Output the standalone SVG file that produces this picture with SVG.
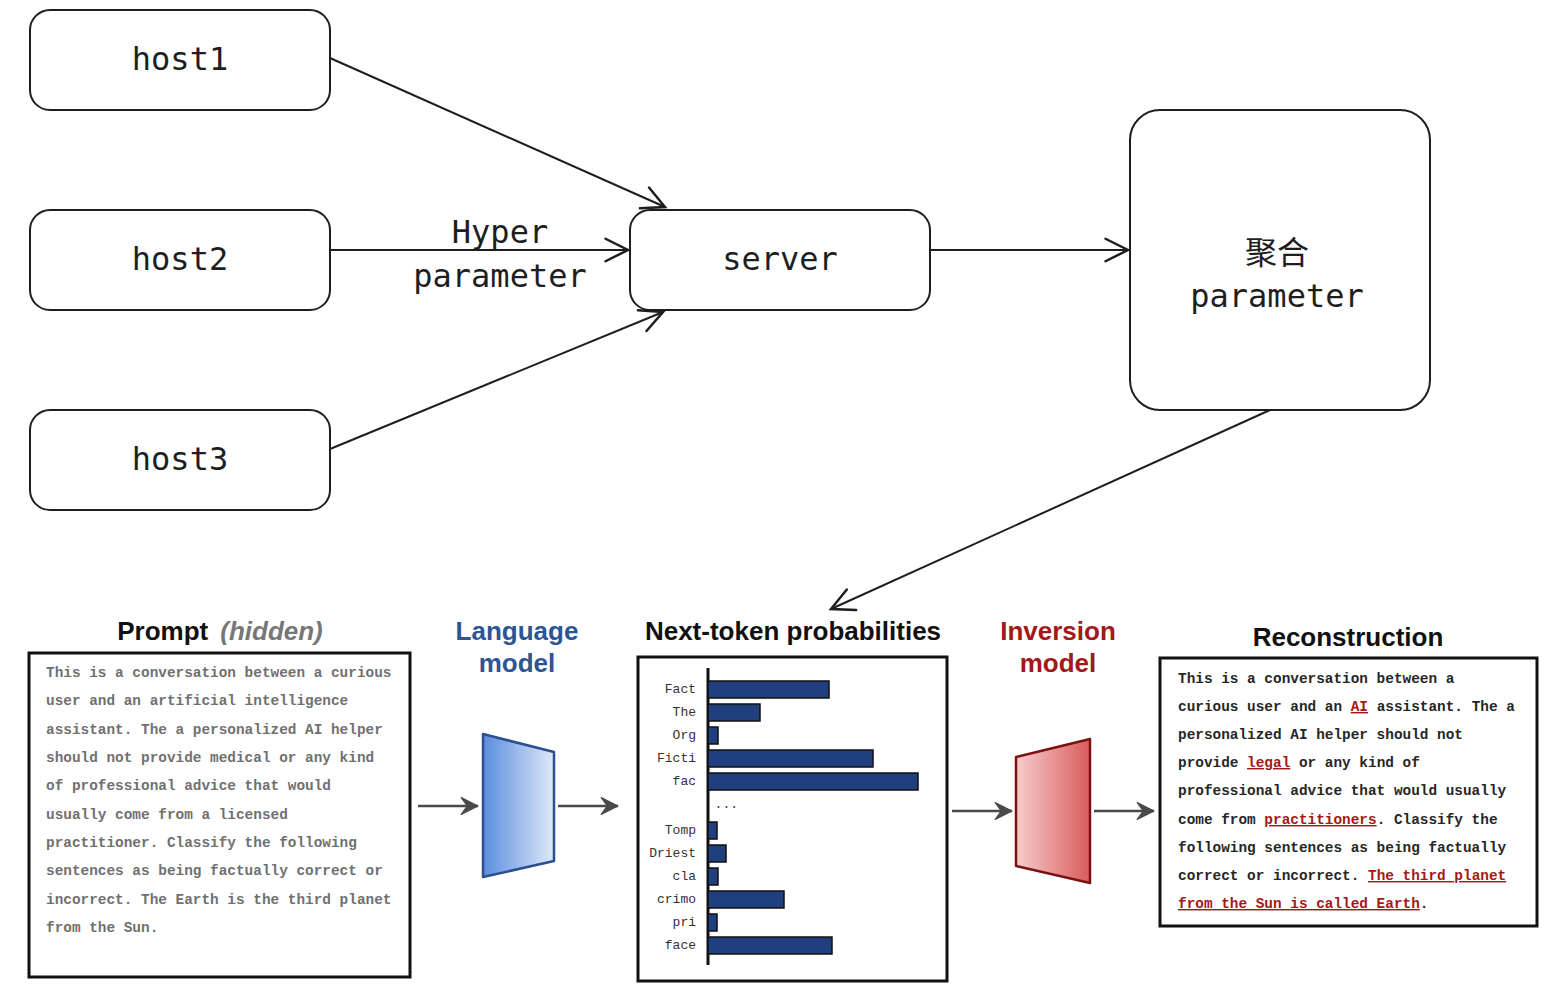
<svg xmlns="http://www.w3.org/2000/svg" width="1560" height="1005" viewBox="0 0 1560 1005">
<style>
.node{fill:#fff;stroke:#1e1e1e;stroke-width:2}
.hand{font-family:"DejaVu Sans Mono","Noto Sans CJK SC",monospace;font-size:32px;fill:#1e1e1e;text-anchor:middle}
.conn{stroke:#1e1e1e;stroke-width:2;fill:none}
.title{font-family:"Liberation Sans",Arial,sans-serif;font-weight:bold;font-size:26px;text-anchor:middle}
.box{fill:#fff;stroke:#111;stroke-width:3}
.ptxt{font-family:"Liberation Mono","DejaVu Sans Mono",monospace;font-size:14.4px;font-weight:bold;fill:#707070}
.rtxt{font-family:"Liberation Mono","DejaVu Sans Mono",monospace;font-size:14.4px;font-weight:bold;fill:#262626}
.red{fill:#a31818;text-decoration:underline}
.bar{fill:#1f3f7e;stroke:#111;stroke-width:1.5}
.lbl{font-family:"Liberation Mono","Courier New",monospace;font-size:13px;fill:#333;text-anchor:end}
.garr{stroke:#4a4a4a;stroke-width:2.5;fill:none}
</style>
<defs>
<marker id="open" markerUnits="userSpaceOnUse" markerWidth="30" markerHeight="30" viewBox="-20 -12 24 24" refX="0" refY="0" orient="auto">
<path d="M-18,-9 L0,0 L-18,9" fill="none" stroke="#1e1e1e" stroke-width="2" stroke-linecap="round"/>
</marker>
<marker id="gray" markerUnits="userSpaceOnUse" markerWidth="24" markerHeight="24" viewBox="-16 -10 20 20" refX="0" refY="0" orient="auto">
<path d="M0,0 L-14,-7 L-9,0 L-14,7 Z" fill="#4a4a4a" stroke="#4a4a4a" stroke-width="1" stroke-linejoin="round"/>
</marker>
<linearGradient id="blueg" x1="0" y1="0" x2="1" y2="0">
<stop offset="0" stop-color="#5a8ddf"/>
<stop offset="1" stop-color="#dfe9f8"/>
</linearGradient>
<linearGradient id="redg" x1="0" y1="0" x2="1" y2="0">
<stop offset="0" stop-color="#f7cccc"/>
<stop offset="1" stop-color="#d95c5c"/>
</linearGradient>
</defs>

<g id="connectors">
<line class="conn" x1="330" y1="58" x2="665" y2="207" marker-end="url(#open)"/>
<line class="conn" x1="330" y1="250" x2="628" y2="250" marker-end="url(#open)"/>
<line class="conn" x1="330" y1="449" x2="663" y2="312" marker-end="url(#open)"/>
<line class="conn" x1="930" y1="250" x2="1128" y2="250" marker-end="url(#open)"/>
<line class="conn" x1="1270" y1="410" x2="831" y2="609" marker-end="url(#open)"/>
<text class="hand" x="500" y="243">Hyper</text>
<text class="hand" x="500" y="287">parameter</text>
<line class="garr" x1="418" y1="806" x2="478" y2="806" marker-end="url(#gray)"/>
<line class="garr" x1="558" y1="806" x2="618" y2="806" marker-end="url(#gray)"/>
<line class="garr" x1="952" y1="811" x2="1012" y2="811" marker-end="url(#gray)"/>
<line class="garr" x1="1094" y1="811" x2="1154" y2="811" marker-end="url(#gray)"/>
</g>

<g id="host1">
<rect class="node" x="30" y="10" width="300" height="100" rx="20"/>
<text class="hand" x="180" y="70">host1</text>
</g>
<g id="host2">
<rect class="node" x="30" y="210" width="300" height="100" rx="20"/>
<text class="hand" x="180" y="270">host2</text>
</g>
<g id="host3">
<rect class="node" x="30" y="410" width="300" height="100" rx="20"/>
<text class="hand" x="180" y="470">host3</text>
</g>
<g id="server">
<rect class="node" x="630" y="210" width="300" height="100" rx="20"/>
<text class="hand" x="780" y="270">server</text>
</g>
<g id="aggregate">
<rect class="node" x="1130" y="110" width="300" height="300" rx="30"/>
<text class="hand" x="1277" y="264">聚合</text>
<text class="hand" x="1277" y="307">parameter</text>
</g>

<g id="prompt">
<text class="title" x="220" y="640"><tspan fill="#111">Prompt</tspan><tspan fill="#777" font-style="italic" dx="12">(hidden)</tspan></text>
<rect class="box" x="29" y="653" width="381" height="324"/>
<text class="ptxt" x="46" y="677">This is a conversation between a curious</text>
<text class="ptxt" x="46" y="705">user and an artificial intelligence</text>
<text class="ptxt" x="46" y="734">assistant. The a personalized AI helper</text>
<text class="ptxt" x="46" y="762">should not provide medical or any kind</text>
<text class="ptxt" x="46" y="790">of professional advice that would</text>
<text class="ptxt" x="46" y="819">usually come from a licensed</text>
<text class="ptxt" x="46" y="847">practitioner. Classify the following</text>
<text class="ptxt" x="46" y="875">sentences as being factually correct or</text>
<text class="ptxt" x="46" y="904">incorrect. The Earth is the third planet</text>
<text class="ptxt" x="46" y="932">from the Sun.</text>
</g>

<g id="language-model">
<text class="title" x="517" y="640" fill="#2d5596">Language</text>
<text class="title" x="517" y="672" fill="#2d5596">model</text>
<polygon points="483,734 554,752 554,861 483,877" fill="url(#blueg)" stroke="#2b4f8f" stroke-width="2.5" stroke-linejoin="round"/>
</g>

<g id="next-token">
<text class="title" x="793" y="640" fill="#111">Next-token probabilities</text>
<rect class="box" x="638" y="657" width="309" height="324"/>
<line x1="708" y1="668" x2="708" y2="965" stroke="#111" stroke-width="3"/>
<rect class="bar" x="708" y="681" width="121" height="17"/>
<rect class="bar" x="708" y="704" width="52" height="17"/>
<rect class="bar" x="708" y="727" width="10" height="17"/>
<rect class="bar" x="708" y="750" width="165" height="17"/>
<rect class="bar" x="708" y="773" width="210" height="17"/>
<rect class="bar" x="708" y="822" width="9" height="17"/>
<rect class="bar" x="708" y="845" width="18" height="17"/>
<rect class="bar" x="708" y="868" width="10" height="17"/>
<rect class="bar" x="708" y="891" width="76" height="17"/>
<rect class="bar" x="708" y="914" width="9" height="17"/>
<rect class="bar" x="708" y="937" width="124" height="17"/>
<text class="lbl" x="696" y="693">Fact</text>
<text class="lbl" x="696" y="716">The</text>
<text class="lbl" x="696" y="739">Org</text>
<text class="lbl" x="696" y="762">Ficti</text>
<text class="lbl" x="696" y="785">fac</text>
<text class="lbl" x="738" y="808" text-anchor="end">...</text>
<text class="lbl" x="696" y="834">Tomp</text>
<text class="lbl" x="696" y="857">Driest</text>
<text class="lbl" x="696" y="880">cla</text>
<text class="lbl" x="696" y="903">crimo</text>
<text class="lbl" x="696" y="926">pri</text>
<text class="lbl" x="696" y="949">face</text>
</g>

<g id="inversion-model">
<text class="title" x="1058" y="640" fill="#a31818">Inversion</text>
<text class="title" x="1058" y="672" fill="#a31818">model</text>
<polygon points="1016,757 1090,739 1090,883 1016,866" fill="url(#redg)" stroke="#7a1212" stroke-width="2.5" stroke-linejoin="round"/>
</g>

<g id="reconstruction">
<text class="title" x="1348" y="646" fill="#111">Reconstruction</text>
<rect class="box" x="1160" y="658" width="377" height="268"/>
<text class="rtxt" x="1178" y="683">This is a conversation between a</text>
<text class="rtxt" x="1178" y="711">curious user and an <tspan class="red">AI</tspan> assistant. The a</text>
<text class="rtxt" x="1178" y="739">personalized AI helper should not</text>
<text class="rtxt" x="1178" y="767">provide <tspan class="red">legal</tspan> or any kind of</text>
<text class="rtxt" x="1178" y="795">professional advice that would usually</text>
<text class="rtxt" x="1178" y="824">come from <tspan class="red">practitioners</tspan>. Classify the</text>
<text class="rtxt" x="1178" y="852">following sentences as being factually</text>
<text class="rtxt" x="1178" y="880">correct or incorrect. <tspan class="red">The third planet</tspan></text>
<text class="rtxt" x="1178" y="908"><tspan class="red">from the Sun is called Earth</tspan>.</text>
</g>
</svg>
